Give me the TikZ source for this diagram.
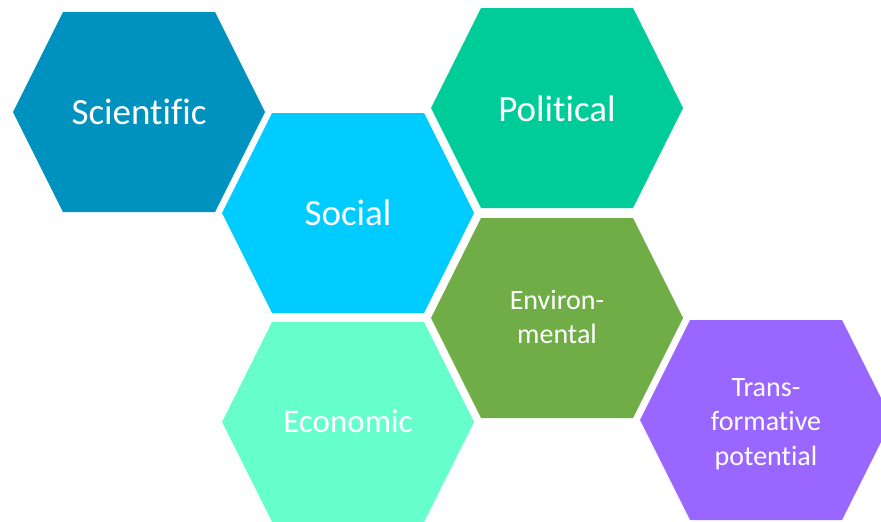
\documentclass[tikz,border=0pt]{standalone}
\usepackage{fontspec}
\setmainfont{Carlito}[Ligatures=NoCommon]
\definecolor{cSci}{HTML}{0092BE}
\definecolor{cSoc}{HTML}{00CCFF}
\definecolor{cPol}{HTML}{00CC99}
\definecolor{cEnv}{HTML}{70AD47}
\definecolor{cEco}{HTML}{66FFCC}
\definecolor{cTra}{HTML}{9966FF}
\newcommand\hexshape[3]{%
  \fill[#3] ($(#1,#2)+(-126,0)$) -- ++(50,-100) -- ++(152,0) -- ++(50,100) -- ++(-50,100) -- ++(-152,0) -- cycle;}
\usetikzlibrary{calc}
\begin{document}
\begin{tikzpicture}[x=1pt,y=-1pt,
  big/.style={text=white,font=\fontsize{37}{44}\selectfont,align=center},
  small/.style={text=white,font=\fontsize{28}{34.5}\selectfont,align=center}]
\useasboundingbox (0,0) rectangle (881,522);
\begin{scope}
\clip (0,0) rectangle (881,522);
\hexshape{139}{112}{cSci}
\hexshape{348}{213}{cSoc}
\hexshape{557}{108}{cPol}
\hexshape{557}{318}{cEnv}
\hexshape{348}{422}{cEco}
\hexshape{766}{420}{cTra}
\end{scope}
\node[big] (sci) at (139,112) {Scientific};
\node[big] (soc) at (348,213) {Social};
\node[big] (pol) at (557,109) {Political};
\node[small] (env) at (557,317) {Environ-\\mental};
\node[big,font=\fontsize{33}{40}\selectfont] (eco) at (348,421) {Economic};
\node[small] (tra) at (766,424) {Trans-\\formative\\potential};
\end{tikzpicture}
\end{document}
